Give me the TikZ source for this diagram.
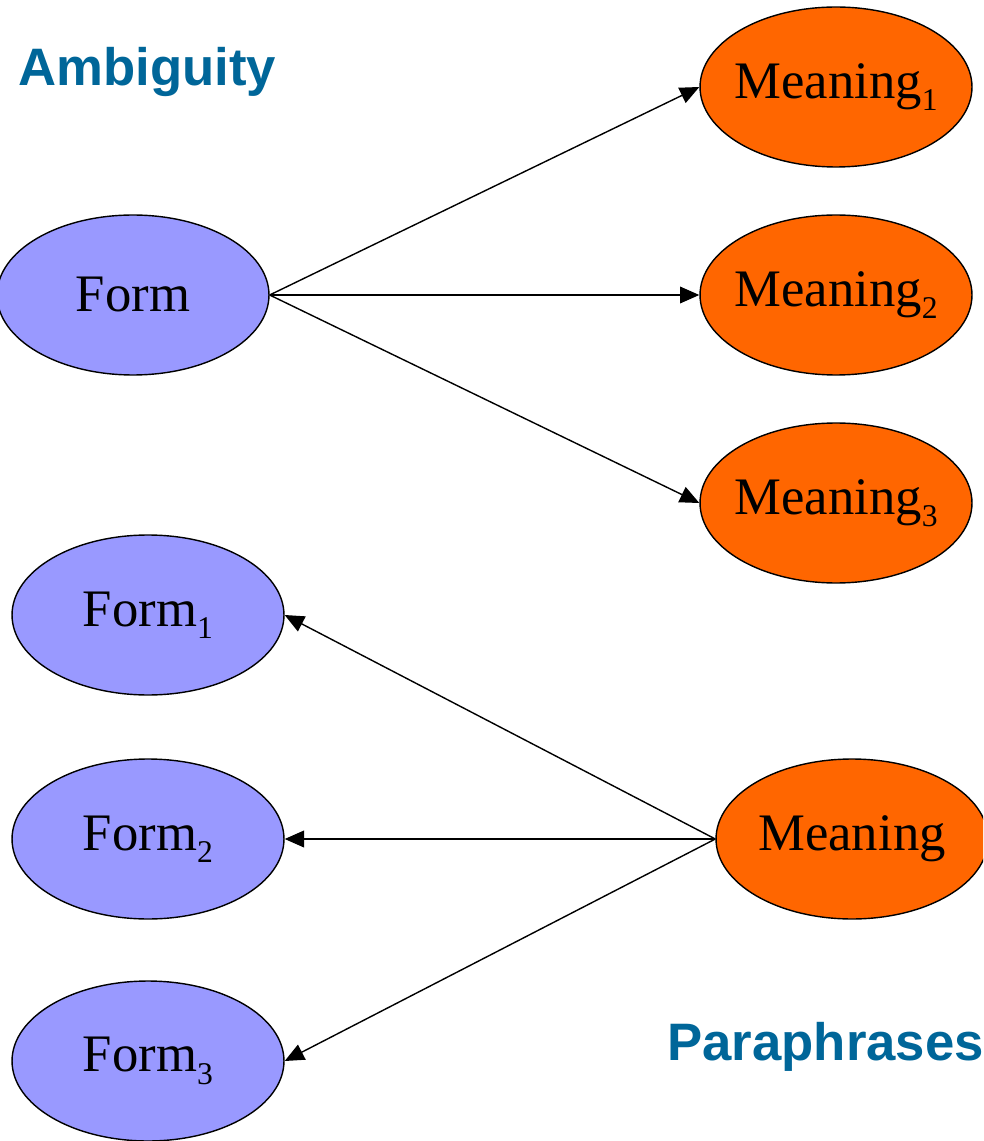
\documentclass[tikz,border=0pt]{standalone}
\usepackage{fontspec}
\setmainfont{Liberation Serif}
\newfontfamily\labelfont{Liberation Sans}
\usetikzlibrary{shapes.geometric,arrows.meta}
\definecolor{formblue}{HTML}{9999FF}
\definecolor{meaningorange}{HTML}{FF6600}
\definecolor{titleblue}{HTML}{006699}
% lowered index after a word
\newcommand{\idx}[1]{\raisebox{-7pt}{\fontsize{18}{18}\selectfont #1}}
% text that does not widen its ellipse
\newcommand{\inside}[1]{\makebox[0pt]{#1}}
\begin{document}
\begin{tikzpicture}[x=0.02cm,y=-0.02cm,
  bubble/.style={ellipse,draw=black,line width=0.8pt,minimum width=5.44cm,
    minimum height=3.2cm,inner sep=0pt,font=\fontsize{30}{36}\selectfont},
  formnode/.style={bubble,fill=formblue},
  meaningnode/.style={bubble,fill=meaningorange},
  link/.style={line width=0.8pt,-{Triangle[length=11pt,width=9.5pt]}},
  heading/.style={text=titleblue,inner sep=0pt,
    font=\labelfont\bfseries\fontsize{30}{36}\selectfont}]
\clip (0,0) rectangle (983,1141);
\fill[white] (0,0) rectangle (983,1141);

% upper half: one form, several meanings
\node[heading,anchor=base west] (amb) at (18,86) {Ambiguity};
\node[formnode] (form) at (133,295) {\inside{Form}};
\node[meaningnode] (m1) at (836,87) {\inside{Meaning\idx{1}}};
\node[meaningnode] (m2) at (836,295) {\inside{Meaning\idx{2}}};
\node[meaningnode] (m3) at (836,503) {\inside{Meaning\idx{3}}};
\draw[link] (form.east) -- (m1.west);
\draw[link] (form.east) -- (m2.west);
\draw[link] (form.east) -- (m3.west);

% lower half: one meaning, several forms
\node[formnode] (f1) at (148,615) {\inside{Form\idx{1}}};
\node[formnode] (f2) at (148,839) {\inside{Form\idx{2}}};
\node[formnode] (f3) at (148,1061) {\inside{Form\idx{3}}};
\node[meaningnode] (mean) at (852,839) {\inside{Meaning}};
\draw[link] (mean.west) -- (f1.east);
\draw[link] (mean.west) -- (f2.east);
\draw[link] (mean.west) -- (f3.east);
\node[heading,anchor=base west] (para) at (667,1060) {Paraphrases};
\end{tikzpicture}
\end{document}
